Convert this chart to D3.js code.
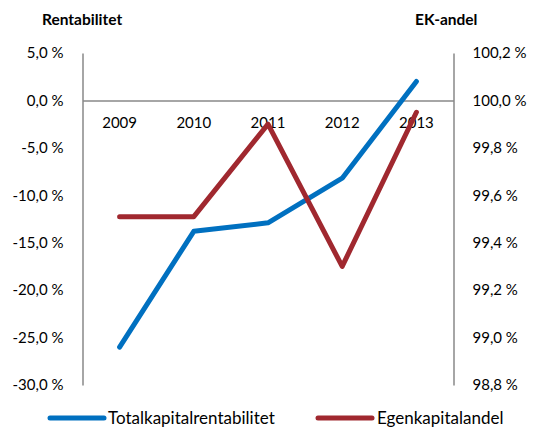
<!DOCTYPE html>
<html><head><meta charset="utf-8">
<script src="https://cdn.jsdelivr.net/npm/d3@7"></script>
<style>body{margin:0;background:#fff}svg{display:block}text{font-family:Lato,"Open Sans",sans-serif}</style>
</head><body>
<svg id="c" width="533" height="428"></svg>
<script>
const categories = ["2009","2010","2011","2012","2013"];
const totalkapital = [-26.0, -13.8, -12.9, -8.2, 2.0];
const egenkapital = [99.51, 99.51, 99.90, 99.30, 99.95];
const leftTicks = [5,0,-5,-10,-15,-20,-25,-30];
const rightTicks = [100.2,100.0,99.8,99.6,99.4,99.2,99.0,98.8];
const seriesNames = ["Totalkapitalrentabilitet","Egenkapitalandel"];
const colors = ["#0070C0","#A0282F"];

const svg = d3.select("#c");
const L = 82.5, R = 453.5, T = 53, B = 385;
const x = d3.scaleBand().domain(categories).range([L,R]);
const yL = d3.scaleLinear().domain([-30,5]).range([B,T]);
const yR = d3.scaleLinear().domain([98.8,100.2]).range([B,T]);
const fmt = v => v.toFixed(1).replace(".",",") + " %";

// axes
const la = svg.append("g").attr("transform",`translate(${L},0)`)
  .call(d3.axisLeft(yL).tickValues(leftTicks).tickSize(0).tickPadding(19).tickFormat(fmt));
const ra = svg.append("g").attr("transform",`translate(${R},0)`)
  .call(d3.axisRight(yR).tickValues(rightTicks).tickSize(0).tickPadding(19).tickFormat(fmt));
[la,ra].forEach(g=>{
  g.select(".domain").attr("stroke","#898989").attr("stroke-width",1.5);
  g.selectAll("text").attr("font-size",15).attr("fill","#000").style("font-family","Lato,'Open Sans',sans-serif");
});
// zero line with category labels
const xa = svg.append("g").attr("transform",`translate(0,${yL(0)})`)
  .call(d3.axisBottom(x).tickSize(0).tickPadding(17));
xa.select(".domain").attr("stroke","#898989").attr("stroke-width",1.5);
xa.selectAll("text").attr("font-size",15).attr("fill","#000").style("font-family","Lato,'Open Sans',sans-serif");

// lines
const lineL = d3.line().x((d,i)=>x(categories[i])+x.bandwidth()/2).y(d=>yL(d));
const lineR = d3.line().x((d,i)=>x(categories[i])+x.bandwidth()/2).y(d=>yR(d));
svg.append("path").datum(totalkapital).attr("d",lineL).attr("fill","none")
  .attr("stroke",colors[0]).attr("stroke-width",5).attr("stroke-linecap","round").attr("stroke-linejoin","round");
svg.append("path").datum(egenkapital).attr("d",lineR).attr("fill","none")
  .attr("stroke",colors[1]).attr("stroke-width",5).attr("stroke-linecap","round").attr("stroke-linejoin","round");

// titles
svg.append("text").attr("x",42).attr("y",25).attr("font-size",15.5).attr("font-weight","bold").text("Rentabilitet");
svg.append("text").attr("x",415).attr("y",25).attr("font-size",15.5).attr("font-weight","bold").text("EK-andel");

// legend
const leg = [{x1:50,x2:104,tx:108},{x1:318,x2:372,tx:377}];
leg.forEach((l,i)=>{
  svg.append("line").attr("x1",l.x1).attr("x2",l.x2).attr("y1",418).attr("y2",418)
    .attr("stroke",colors[i]).attr("stroke-width",5).attr("stroke-linecap","round");
  svg.append("text").attr("x",l.tx).attr("y",423.5).attr("font-size",17).text(seriesNames[i]);
});
</script>
</body></html>
